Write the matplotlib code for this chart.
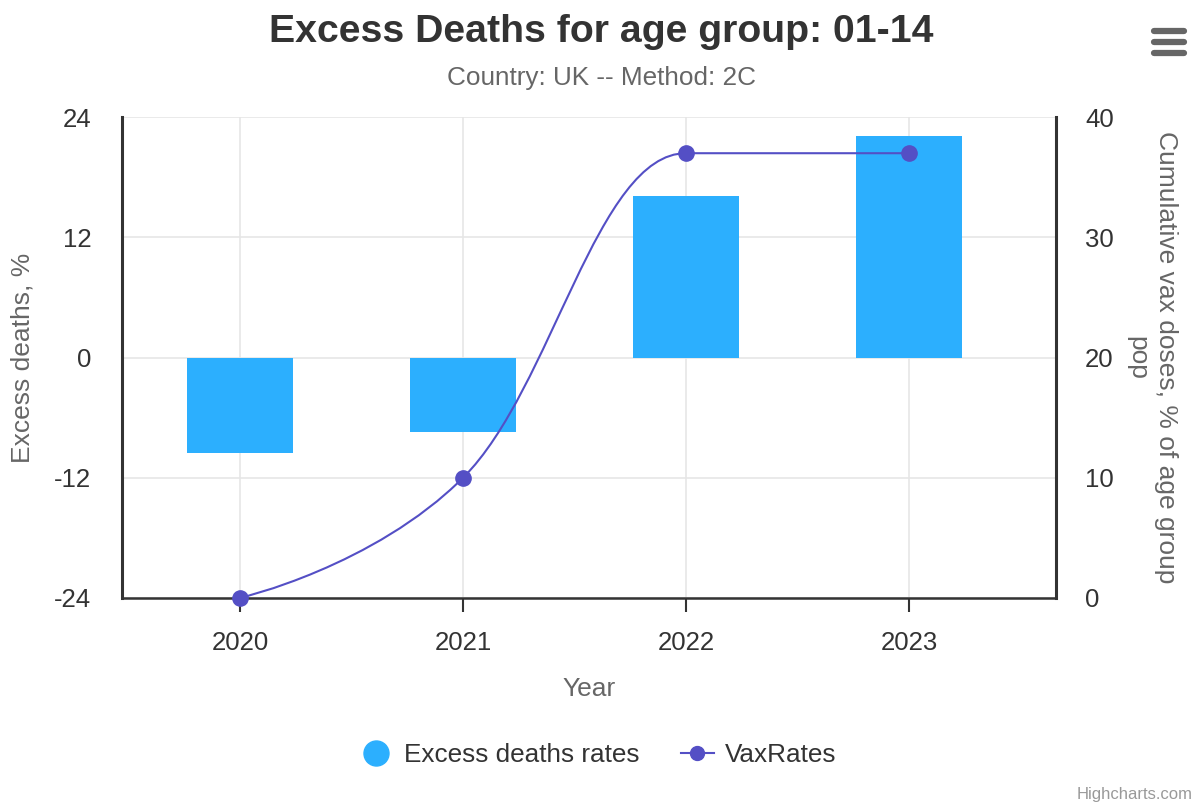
import numpy as np
import matplotlib.pyplot as plt
from matplotlib.path import Path
from matplotlib.patches import PathPatch
from matplotlib.lines import Line2D

plt.rcParams['font.family'] = ['Liberation Sans', 'DejaVu Sans']
plt.rcParams['axes.unicode_minus'] = False

# Data
years = ['2020', '2021', '2022', '2023']
excess_deaths = [-9.5, -7.4, 16.1, 22.1]   # %
vax_rates = [0.0, 10.0, 37.0, 37.0]        # cumulative % of age group pop

bar_color = '#2caffe'
line_color = '#544fc5'


def spline_path(xs, ys, smoothing=1.5):
    # Highcharts-style spline through the points, as cubic bezier segments
    denom = smoothing + 1
    n = len(xs)
    left = [(xs[i], ys[i]) for i in range(n)]
    right = [(xs[i], ys[i]) for i in range(n)]
    for i in range(1, n - 1):
        px, py = xs[i], ys[i]
        lx, ly = xs[i - 1], ys[i - 1]
        nx, ny = xs[i + 1], ys[i + 1]
        lcx = (smoothing * px + lx) / denom
        lcy = (smoothing * py + ly) / denom
        rcx = (smoothing * px + nx) / denom
        rcy = (smoothing * py + ny) / denom
        corr = 0
        if rcx != lcx:
            corr = (rcy - lcy) * (rcx - px) / (rcx - lcx) + py - rcy
        lcy += corr
        rcy += corr
        if lcy > ly and lcy > py:
            lcy = max(ly, py)
            rcy = 2 * py - lcy
        elif lcy < ly and lcy < py:
            lcy = min(ly, py)
            rcy = 2 * py - lcy
        if rcy > ny and rcy > py:
            rcy = max(ny, py)
            lcy = 2 * py - rcy
        elif rcy < ny and rcy < py:
            rcy = min(ny, py)
            lcy = 2 * py - rcy
        left[i] = (lcx, lcy)
        right[i] = (rcx, rcy)
    verts = [(xs[0], ys[0])]
    codes = [Path.MOVETO]
    for i in range(1, n):
        verts += [right[i - 1], left[i], (xs[i], ys[i])]
        codes += [Path.CURVE4] * 3
    return Path(verts, codes)


fig = plt.figure(figsize=(11.96, 8.08), dpi=100)
ax = fig.add_axes([0.102, 0.26, 0.781, 0.595])
x = np.arange(len(years))

ax.bar(x, excess_deaths, width=0.475, color=bar_color, zorder=2)
ax.set_xlim(-0.53, 3.66)
ax.set_ylim(-24, 24)
ax.set_yticks([-24, -12, 0, 12, 24])
ax.set_xticks(x)
ax.set_xticklabels(years)
ax.grid(True, color='#e6e6e6', linewidth=1.2, zorder=0)
ax.set_axisbelow(True)
ax.tick_params(axis='y', length=0, pad=22, labelsize=18.5, labelcolor='#333333')
ax.tick_params(axis='x', length=10, width=1.5, color='#333333', pad=14,
               labelsize=18.5, labelcolor='#333333')
for side in ['top', 'right']:
    ax.spines[side].set_visible(False)
ax.spines['left'].set_color('#333333')
ax.spines['left'].set_linewidth(2.2)
ax.spines['bottom'].set_color('#333333')
ax.spines['bottom'].set_linewidth(1.8)
ax.set_ylabel('Excess deaths, %', fontsize=19, color='#666666', labelpad=14)
ax.set_xlabel('Year', fontsize=19, color='#666666', labelpad=16)

ax2 = ax.twinx()
ax2.set_ylim(0, 40)
ax2.set_yticks([0, 10, 20, 30, 40])
ax2.tick_params(axis='y', length=0, pad=21, labelsize=18.5, labelcolor='#333333')
for side in ['top', 'left', 'bottom']:
    ax2.spines[side].set_visible(False)
ax2.spines['right'].set_color('#333333')
ax2.spines['right'].set_linewidth(2.2)
ax2.set_ylabel('Cumulative vax doses, % of age group\npop', fontsize=19,
               color='#666666', rotation=270, labelpad=46, linespacing=1.25)

ax2.add_patch(PathPatch(spline_path(list(x), vax_rates), facecolor='none',
                        edgecolor=line_color, linewidth=1.5, zorder=3))
ax2.plot(x, vax_rates, linestyle='none', marker='o', markersize=11,
         color=line_color, zorder=4, clip_on=False)

fig.text(0.503, 0.96, 'Excess Deaths for age group: 01-14', ha='center',
         va='center', fontsize=28.3, fontweight='bold', color='#333333')
fig.text(0.503, 0.904, 'Country: UK -- Method: 2C', ha='center',
         va='center', fontsize=18.8, color='#666666')

handles = [
    Line2D([], [], linestyle='none', marker='o', markersize=18,
           color=bar_color),
    Line2D([], [], color=line_color, linewidth=1.5, marker='o',
           markersize=10),
]
fig.legend(handles, ['Excess deaths rates', 'VaxRates'], loc='center',
           bbox_to_anchor=(0.5, 0.066), ncol=2, frameon=False, fontsize=18.8,
           labelcolor='#333333', handlelength=1.25, columnspacing=1.6,
           handletextpad=0.45)

# menu icon
for yy in [0.962, 0.948, 0.934]:
    fig.add_artist(Line2D([0.965, 0.99], [yy, yy], color='#666666',
                          linewidth=4.5, solid_capstyle='round'))

fig.text(0.997, 0.008, 'Highcharts.com', ha='right', va='bottom',
         fontsize=12, color='#999999')

fig.savefig('out.png', dpi=100)
